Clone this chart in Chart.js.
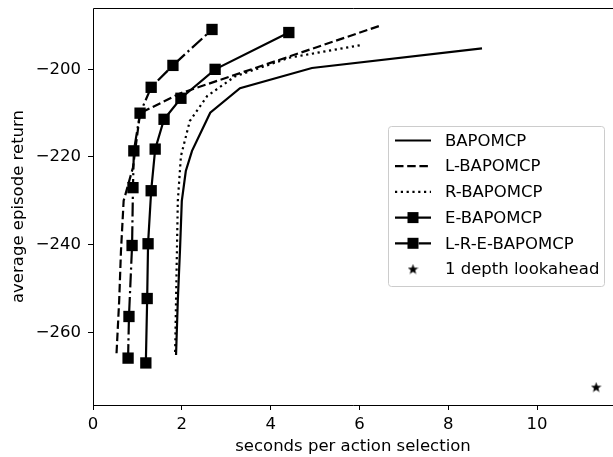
<!DOCTYPE html>
<html>
<head>
<meta charset="utf-8">
<script src="https://cdn.jsdelivr.net/npm/chart.js@4/dist/chart.umd.min.js"></script>
<style>
  html, body { margin: 0; padding: 0; background: #fff; }
  #wrap { width: 613px; height: 457px; }
</style>
</head>
<body>
<div id="wrap"><canvas id="chart" width="613" height="457"></canvas></div>
<script>
// values
const xTicks = [0, 2, 4, 6, 8, 10];
const yTicks = [-260, -240, -220, -200];

const bapomcpX = [1.87, 1.91, 1.96, 2.00, 2.09, 2.23, 2.64, 3.31, 4.93, 8.76];
const bapomcpY = [-265.2, -252.7, -241.0, -230.0, -223.2, -218.6, -209.9, -204.3, -199.7, -195.2];

const lBapomcpX = [0.53, 0.59, 0.63, 0.69, 0.90, 1.06, 1.96, 6.45];
const lBapomcpY = [-264.8, -252.7, -241.4, -230.0, -222.4, -210.0, -205.5, -190.1];

const rBapomcpX = [1.85, 1.87, 1.89, 1.91, 1.98, 2.18, 2.57, 3.20, 4.44, 6.07];
const rBapomcpY = [-264.5, -252.7, -241.4, -230.0, -219.8, -211.8, -206.1, -201.6, -197.3, -194.4];

const eBapomcpX = [1.19, 1.22, 1.24, 1.31, 1.40, 1.60, 1.98, 2.75, 4.41];
const eBapomcpY = [-267.0, -252.3, -239.8, -227.7, -218.2, -211.4, -206.6, -200.0, -191.6];

const lreBapomcpX = [0.79, 0.81, 0.88, 0.90, 0.92, 1.06, 1.31, 1.80, 2.68];
const lreBapomcpY = [-265.9, -256.4, -240.2, -227.0, -218.6, -210.0, -204.1, -199.1, -190.9];

const lookaheadX = [11.33];
const lookaheadY = [-272.5];

const FONT = 'DejaVu Sans';
const FSIZE = 16.5;
const LW = 2.2;
const DASHED = [8.5, 3.7];
const DOTTED = [2.2, 3.6];
const DASHDOT = [14, 3.7, 2.2, 3.7];

function pts(xs, ys) {
    return xs.map((x, i) => ({ x: x, y: ys[i] }));
}

// matplotlib style minus sign
function fmtTick(v) {
    return v < 0 ? '\u2212' + Math.abs(v) : String(v);
}

// filled star like matplotlib's '*' marker
function makeStar(size) {
    const c = document.createElement('canvas');
    c.width = size; c.height = size;
    const g = c.getContext('2d');
    const cx = size / 2, cy = size / 2 + 0.5, outer = size / 2, inner = outer * 0.42;
    g.beginPath();
    for (let i = 0; i < 10; i++) {
        const r = i % 2 === 0 ? outer : inner;
        const a = -Math.PI / 2 + i * Math.PI / 5;
        const px = cx + r * Math.cos(a), py = cy + r * Math.sin(a);
        if (i === 0) g.moveTo(px, py); else g.lineTo(px, py);
    }
    g.closePath();
    g.fillStyle = '#000';
    g.fill();
    return c;
}
const starImg = makeStar(11);

const legendItems = [
    { label: 'BAPOMCP', dash: [], marker: false },
    { label: 'L-BAPOMCP', dash: DASHED, marker: false },
    { label: 'R-BAPOMCP', dash: DOTTED, marker: false },
    { label: 'E-BAPOMCP', dash: [], marker: true },
    { label: 'L-R-E-BAPOMCP', dash: DASHDOT, marker: true },
    { label: '1 depth lookahead', star: true }
];

// axes frame (right spine is off the canvas in the reference)
const framePlugin = {
    id: 'frame',
    afterDraw(chart) {
        const { ctx, chartArea: a } = chart;
        ctx.save();
        ctx.strokeStyle = '#000';
        ctx.lineWidth = 1;
        ctx.beginPath();
        ctx.moveTo(a.right + 1, Math.round(a.top) + 0.5);
        ctx.lineTo(Math.round(a.left) + 0.5, Math.round(a.top) + 0.5);
        ctx.lineTo(Math.round(a.left) + 0.5, Math.round(a.bottom) + 0.5);
        ctx.lineTo(a.right + 1, Math.round(a.bottom) + 0.5);
        ctx.stroke();
        ctx.restore();
    }
};

const legendPlugin = {
    id: 'boxLegend',
    afterDraw(chart) {
        const ctx = chart.ctx;
        const left = 388.5, top = 126.5, w = 216, h = 160;
        ctx.save();
        ctx.fillStyle = 'rgba(255,255,255,0.8)';
        ctx.strokeStyle = '#cccccc';
        ctx.lineWidth = 1;
        ctx.beginPath();
        ctx.roundRect(left, top, w, h, 3);
        ctx.fill();
        ctx.stroke();

        ctx.font = FSIZE + 'px "' + FONT + '"';
        ctx.textBaseline = 'middle';
        legendItems.forEach((item, i) => {
            const y = 140.5 + i * 25.7;
            const x0 = 395, x1 = 431;
            ctx.fillStyle = '#000';
            ctx.strokeStyle = '#000';
            if (item.star) {
                ctx.drawImage(starImg, (x0 + x1) / 2 - 5.5, y - 5.5);
            } else {
                ctx.lineWidth = LW;
                ctx.setLineDash(item.dash);
                ctx.beginPath();
                ctx.moveTo(x0, y);
                ctx.lineTo(x1, y);
                ctx.stroke();
                ctx.setLineDash([]);
                if (item.marker) {
                    ctx.fillRect((x0 + x1) / 2 - 5.5, y - 5.5, 11, 11);
                }
            }
            ctx.fillText(item.label, 445, y + 1);
        });
        ctx.restore();
    }
};

function lineSet(label, xs, ys, dash, marker) {
    return {
        label: label,
        data: pts(xs, ys),
        showLine: true,
        borderColor: '#000',
        backgroundColor: '#000',
        borderWidth: LW,
        borderDash: dash,
        pointStyle: 'rect',
        pointRadius: marker ? 8 : 0,
        pointHoverRadius: marker ? 8 : 0,
        pointBorderWidth: 0,
        tension: 0
    };
}

const ctx = document.getElementById('chart').getContext('2d');
new Chart(ctx, {
    type: 'scatter',
    data: {
        datasets: [
            lineSet('BAPOMCP', bapomcpX, bapomcpY, [], false),
            lineSet('L-BAPOMCP', lBapomcpX, lBapomcpY, DASHED, false),
            lineSet('R-BAPOMCP', rBapomcpX, rBapomcpY, DOTTED, false),
            lineSet('E-BAPOMCP', eBapomcpX, eBapomcpY, [], true),
            lineSet('L-R-E-BAPOMCP', lreBapomcpX, lreBapomcpY, DASHDOT, true),
            {
                label: '1 depth lookahead',
                data: pts(lookaheadX, lookaheadY),
                showLine: false,
                pointStyle: starImg,
                pointRadius: 5,
                backgroundColor: '#000',
                borderColor: '#000'
            }
        ]
    },
    options: {
        responsive: false,
        animation: false,
        devicePixelRatio: 1,
        // plot area runs to the right edge of the canvas like the reference
        layout: { autoPadding: false, padding: { top: 8, right: 0, left: 0, bottom: 0 } },
        plugins: {
            legend: { display: false },
            tooltip: { enabled: false }
        },
        scales: {
            x: {
                type: 'linear',
                min: 0,
                max: 11.71,
                afterBuildTicks: (scale) => { scale.ticks = xTicks.map(v => ({ value: v })); },
                afterFit: (scale) => {
                    scale.height = 52;
                    scale.paddingLeft = 0;
                    scale.paddingRight = 0;
                },
                border: { display: false },
                grid: { display: true, drawOnChartArea: false, color: '#000', tickLength: 5, tickWidth: 1 },
                ticks: { color: '#000', font: { family: FONT, size: FSIZE }, padding: 5, maxRotation: 0, callback: fmtTick },
                title: { display: true, text: 'seconds per action selection', color: '#000', font: { family: FONT, size: FSIZE }, padding: { top: 1, bottom: 0 } }
            },
            y: {
                type: 'linear',
                min: -276.6,
                max: -186.0,
                afterBuildTicks: (scale) => { scale.ticks = yTicks.map(v => ({ value: v })); },
                afterFit: (scale) => {
                    scale.width = 93;
                    scale.paddingTop = 0;
                    scale.paddingBottom = 0;
                },
                border: { display: false },
                grid: { display: true, drawOnChartArea: false, color: '#000', tickLength: 5, tickWidth: 1 },
                ticks: { color: '#000', font: { family: FONT, size: FSIZE }, padding: 7, callback: fmtTick },
                title: { display: true, text: 'average episode return', color: '#000', font: { family: FONT, size: FSIZE }, padding: { top: 9, bottom: 0 } }
            }
        }
    },
    plugins: [framePlugin, legendPlugin]
});
</script>
</body>
</html>
